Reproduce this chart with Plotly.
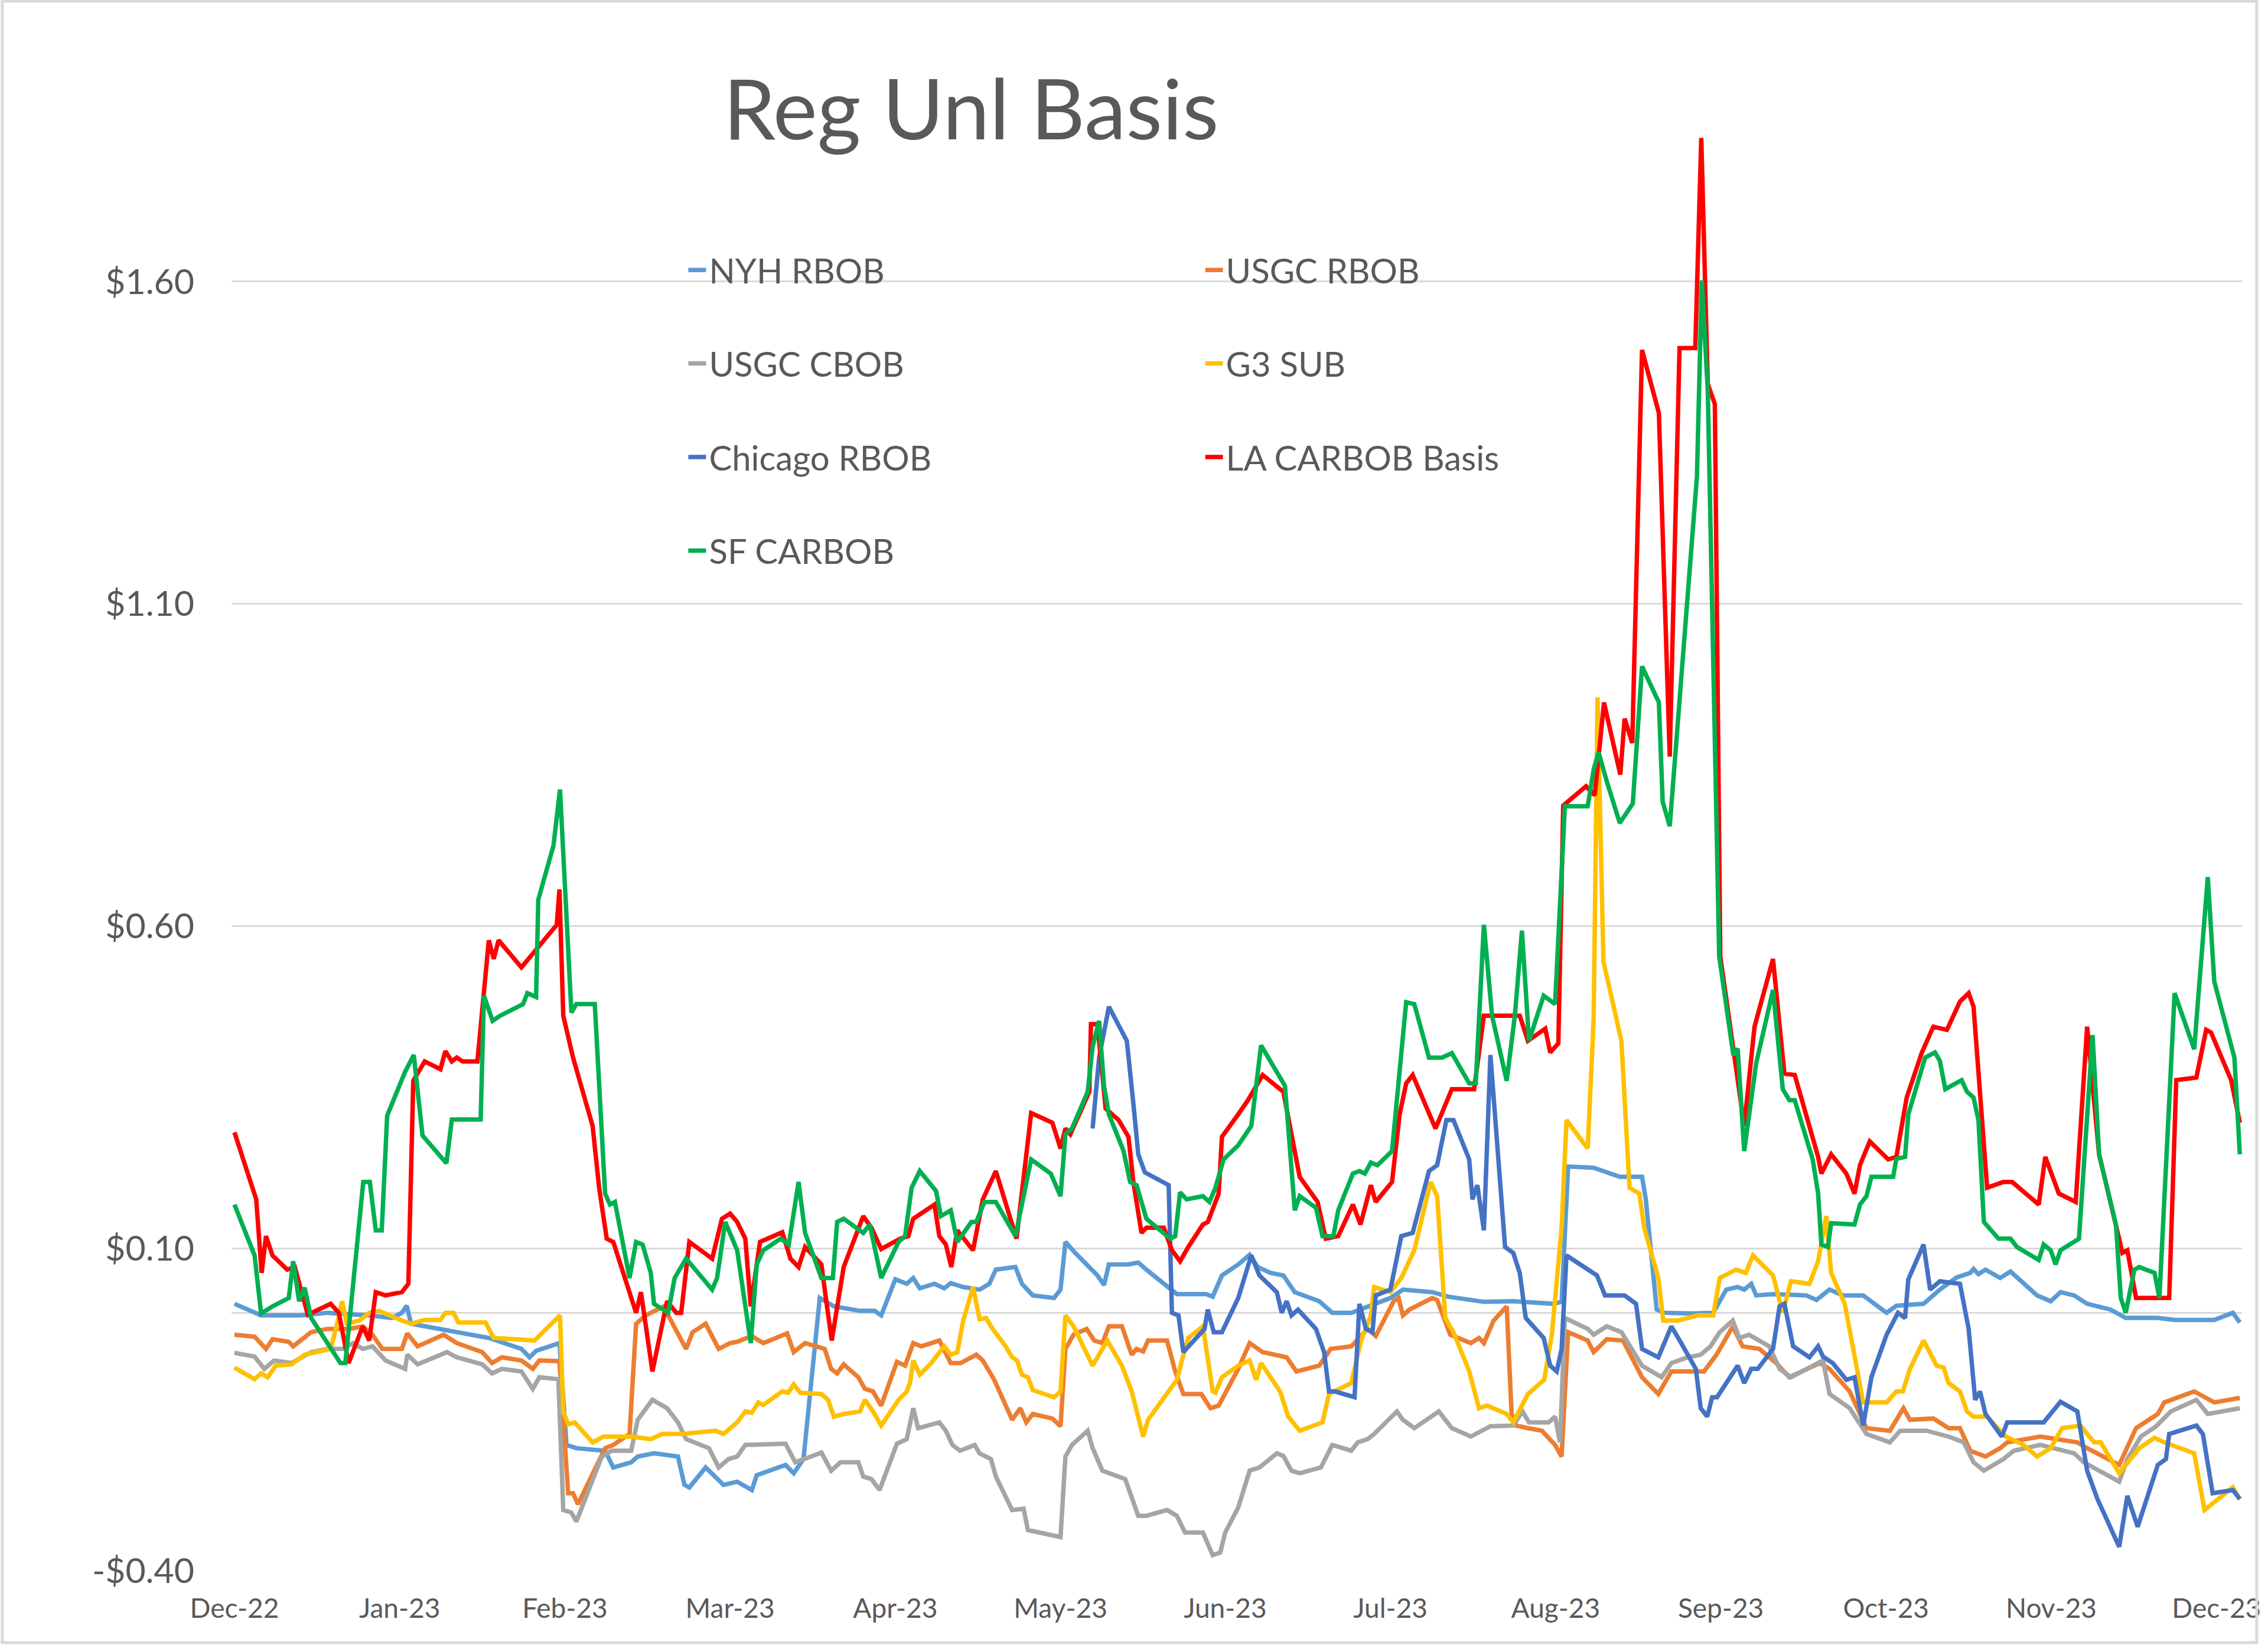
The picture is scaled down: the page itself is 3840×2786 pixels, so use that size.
import plotly.graph_objects as go
import pandas as pd

# ---------------- data ----------------
START = pd.Timestamp("2022-12-01")   # day 0 of the series below

# the category axis shows a label every ~21 trading days, evenly spaced
label_days = [0, 30.4, 60.8, 91.2, 121.6, 152.0, 182.3, 212.7, 243.1, 273.5, 303.9, 334.3, 364.7]
month_labels = ["Dec-22", "Jan-23", "Feb-23", "Mar-23", "Apr-23", "May-23", "Jun-23",
                "Jul-23", "Aug-23", "Sep-23", "Oct-23", "Nov-23", "Dec-23"]
y_ticks = [-0.40, 0.10, 0.60, 1.10, 1.60]
y_labels = ["-$0.40", "$0.10", "$0.60", "$1.10", "$1.60"]

# (days since START, $/gal)
nyh_rbob = [(0,0.014),(4.9,-0.004),(12.3,-0.004),(17.1,0.0),(24.8,-0.004),(29,-0.008),(30.8,0.0),(31.7,0.011),(32.5,-0.017),(37.9,-0.025),(42.1,-0.032),(46.8,-0.039),(52.8,-0.056),(54.3,-0.069),(55.5,-0.059),(59.8,-0.047),(61.1,-0.205),(62.9,-0.21),(68.2,-0.214),(69.7,-0.24),(73,-0.232),(74.2,-0.223),(77.2,-0.218),(81.6,-0.223),(82.8,-0.267),(83.7,-0.271),(86.7,-0.24),(90,-0.267),(92.5,-0.262),(95.2,-0.275),(96.1,-0.252),(101.4,-0.236),(102.9,-0.249),(104.7,-0.227),(107.7,0.023),(110.3,0.01),(115.1,0.003),(117.8,0.003),(119,-0.004),(121.6,0.052),(123.7,0.045),(124.9,0.054),(126.1,0.038),(128.8,0.045),(130.6,0.038),(131.8,0.046),(134.1,0.04),(137.1,0.036),(138.9,0.045),(140.1,0.067),(143.7,0.071),(144.9,0.045),(146.9,0.027),(150.8,0.023),(152,0.036),(152.9,0.11),(154.7,0.093),(157.3,0.071),(158.8,0.058),(160,0.043),(160.9,0.075),(164.5,0.075),(166.3,0.078),(167.8,0.067),(172.2,0.036),(173.4,0.029),(178.8,0.029),(180,0.025),(181.7,0.058),(184.7,0.075),(186.8,0.09),(188.3,0.071),(190.6,0.062),(193,0.058),(195.1,0.032),(199.6,0.018),(202,0.0),(205.5,0.0),(212.7,0.023),(215,0.036),(220.4,0.032),(223.4,0.025),(229.9,0.017),(235.3,0.018),(242.7,0.014),(244.2,0.017),(245.4,0.227),(250.1,0.225),(254.9,0.211),(259,0.211),(259.7,0.176),(261.7,0.005),(263.2,0.0),(268,-0.001),(272.1,0.0),(274.5,0.036),(276.6,0.04),(277.8,0.036),(279.1,0.045),(280,0.027),(283.1,0.029),(289.2,0.027),(291.1,0.02),(293.5,0.036),(296,0.027),(299.7,0.027),(304,0.0),(305.8,0.011),(310.8,0.014),(313.8,0.036),(316.9,0.055),(319.4,0.062),(320,0.068),(320.9,0.06),(322.2,0.067),(324.9,0.054),(326.8,0.064),(329.2,0.046),(331.7,0.027),(334.2,0.018),(336,0.032),(338.5,0.027),(340.9,0.014),(345.2,0.005),(348,-0.008),(353.9,-0.008),(357,-0.011),(364.3,-0.011),(367.7,0.0),(369,-0.015)]

usgc_rbob = [(0,-0.034),(3.7,-0.037),(5.8,-0.056),(7,-0.041),(10,-0.045),(10.8,-0.052),(14.1,-0.03),(17.1,-0.025),(21.2,-0.025),(23.6,-0.021),(25.4,-0.034),(27.2,-0.056),(30.8,-0.056),(31.8,-0.032),(33.7,-0.052),(38.5,-0.034),(40.9,-0.047),(45.6,-0.061),(47.4,-0.078),(49.2,-0.069),(52.8,-0.074),(54.9,-0.087),(56.1,-0.074),(59.8,-0.075),(61.4,-0.28),(62.3,-0.28),(63.2,-0.297),(66.5,-0.24),(68.2,-0.21),(69.7,-0.205),(72.7,-0.188),(73.9,-0.017),(75.7,-0.004),(79,0.01),(79.8,-0.004),(83.1,-0.056),(84.3,-0.03),(86.7,-0.017),(89.1,-0.056),(91.2,-0.047),(92.5,-0.045),(95.2,-0.036),(97.3,-0.047),(101.7,-0.032),(102.9,-0.061),(105,-0.047),(108.6,-0.056),(109.8,-0.087),(110.9,-0.094),(112.1,-0.08),(114.8,-0.1),(116,-0.118),(117.5,-0.122),(119,-0.144),(121.9,-0.076),(123.4,-0.082),(124.9,-0.047),(126.4,-0.052),(129.7,-0.043),(131.8,-0.078),(133.6,-0.078),(136.5,-0.065),(137.7,-0.074),(139.8,-0.104),(143.1,-0.166),(144.6,-0.148),(145.7,-0.17),(146.9,-0.157),(150.5,-0.164),(152,-0.176),(152.9,-0.056),(154.4,-0.034),(156.8,-0.025),(158.2,-0.043),(159.7,-0.047),(160.9,-0.021),(163.3,-0.021),(165.1,-0.065),(166,-0.056),(167.2,-0.06),(168.1,-0.043),(171.6,-0.043),(173.1,-0.091),(174.6,-0.126),(177.9,-0.126),(179.6,-0.148),(181.1,-0.144),(184.7,-0.087),(186.8,-0.047),(189.2,-0.061),(193.6,-0.069),(195.4,-0.091),(199.6,-0.082),(201.7,-0.056),(205.5,-0.052),(208.5,-0.025),(210,-0.036),(213.3,0.018),(214.2,0.023),(215,-0.004),(216.2,0.005),(220.4,0.023),(221.3,0.02),(223.7,-0.034),(226.3,-0.043),(227.5,-0.047),(229,-0.039),(229.9,-0.047),(231.7,-0.012),(234.1,0.01),(235,-0.157),(235.9,-0.175),(238,-0.179),(240.6,-0.183),(243,-0.205),(244.2,-0.223),(245.4,-0.03),(249,-0.043),(250.1,-0.061),(252.5,-0.041),(255.5,-0.043),(259,-0.1),(262,-0.126),(264.4,-0.091),(270.4,-0.091),(272.7,-0.065),(275.7,-0.021),(277.5,-0.052),(280.6,-0.056),(283.7,-0.078),(286.1,-0.1),(291.7,-0.078),(293.5,-0.087),(297.2,-0.122),(300.3,-0.179),(304.6,-0.183),(307.1,-0.148),(308.3,-0.166),(312.6,-0.164),(315.4,-0.179),(317.5,-0.179),(319.4,-0.214),(322.2,-0.223),(324.9,-0.21),(326.2,-0.201),(332.3,-0.192),(339.1,-0.201),(340.9,-0.21),(346.8,-0.236),(348,-0.214),(349.9,-0.179),(353.9,-0.157),(355.1,-0.139),(360.6,-0.122),(364.3,-0.139),(369,-0.132)]

usgc_cbob = [(0,-0.062),(3.7,-0.068),(5.5,-0.087),(7.3,-0.074),(10.5,-0.078),(14.1,-0.061),(17.1,-0.056),(19.8,-0.056),(21.8,-0.047),(23.6,-0.056),(25.4,-0.052),(27.8,-0.074),(31.4,-0.087),(31.8,-0.065),(33.7,-0.08),(39.1,-0.061),(40.9,-0.069),(45.6,-0.08),(47.4,-0.094),(49.2,-0.087),(52.8,-0.091),(54.9,-0.118),(56.1,-0.1),(59.6,-0.103),(60.5,-0.306),(62,-0.31),(62.9,-0.324),(67.6,-0.223),(69.4,-0.214),(73,-0.214),(74.2,-0.166),(76.9,-0.135),(79.6,-0.148),(81.6,-0.17),(83.1,-0.196),(87.3,-0.21),(89.1,-0.24),(90.9,-0.227),(92.5,-0.223),(94,-0.205),(101.4,-0.203),(103.2,-0.232),(108,-0.217),(109.8,-0.245),(111.5,-0.232),(114.8,-0.232),(115.7,-0.254),(117.2,-0.258),(118.7,-0.275),(121.9,-0.203),(123.7,-0.196),(124.9,-0.148),(125.8,-0.179),(129.7,-0.17),(130.9,-0.183),(132.1,-0.205),(133.5,-0.214),(136.2,-0.205),(137.1,-0.218),(139.2,-0.227),(140.1,-0.254),(143.1,-0.306),(145.2,-0.304),(146,-0.337),(152,-0.348),(152.9,-0.223),(154.1,-0.205),(157,-0.183),(157.9,-0.21),(159.7,-0.245),(163.9,-0.258),(166.3,-0.315),(167.8,-0.315),(171.6,-0.306),(173.4,-0.315),(174.9,-0.341),(178.2,-0.341),(180,-0.376),(181.4,-0.372),(182.3,-0.341),(184.7,-0.302),(186.8,-0.245),(188.6,-0.24),(191.8,-0.218),(193,-0.222),(194.5,-0.245),(196,-0.249),(199.9,-0.24),(202,-0.205),(205.5,-0.214),(206.7,-0.201),(208.5,-0.196),(209.7,-0.188),(213.9,-0.153),(215,-0.166),(217.1,-0.179),(221.6,-0.153),(224,-0.179),(227.5,-0.192),(231.1,-0.176),(235.3,-0.175),(237,-0.153),(238.2,-0.17),(241.8,-0.17),(243,-0.161),(243.9,-0.201),(244.8,-0.008),(249,-0.025),(250.1,-0.034),(252.5,-0.021),(255.2,-0.03),(259,-0.082),(262.6,-0.1),(264.4,-0.078),(267.4,-0.069),(269.8,-0.065),(271.6,-0.052),(273.3,-0.03),(275.7,-0.012),(276.9,-0.039),(278.7,-0.034),(282.4,-0.052),(284.3,-0.087),(286.4,-0.1),(292.3,-0.074),(293.5,-0.126),(297.2,-0.148),(300.3,-0.188),(304.6,-0.201),(306.5,-0.183),(311.4,-0.183),(315.4,-0.192),(318.2,-0.201),(320,-0.232),(321.9,-0.245),(325.5,-0.227),(327.4,-0.214),(332.3,-0.205),(338.5,-0.218),(340.3,-0.232),(346.8,-0.262),(348.3,-0.227),(350.8,-0.192),(353.6,-0.176),(356.3,-0.153),(361,-0.135),(363.1,-0.157),(369,-0.148)]

g3_sub = [(0,-0.085),(3.7,-0.103),(4.9,-0.094),(6.1,-0.1),(7.6,-0.082),(10.5,-0.08),(12.9,-0.065),(14.7,-0.061),(17.7,-0.056),(18.9,-0.017),(19.8,0.018),(20.7,-0.017),(23,-0.012),(24.8,0.0),(26.6,0.003),(30.8,-0.012),(32.6,-0.017),(34.9,-0.011),(37.9,-0.011),(38.8,0.0),(40.3,0.0),(41.2,-0.015),(46.2,-0.015),(47.7,-0.039),(55.2,-0.043),(59.9,-0.004),(60.5,-0.153),(61.4,-0.173),(62.6,-0.17),(65.9,-0.201),(67.9,-0.192),(73,-0.192),(76.6,-0.196),(78.7,-0.188),(82.5,-0.188),(88.5,-0.183),(90,-0.188),(92.5,-0.17),(94,-0.153),(95.2,-0.155),(96.4,-0.139),(97.3,-0.143),(100.8,-0.122),(101.9,-0.124),(102.9,-0.111),(104.1,-0.124),(108,-0.126),(109.2,-0.135),(110.3,-0.161),(112.1,-0.157),(115.1,-0.153),(116,-0.135),(117.5,-0.153),(119,-0.175),(122.2,-0.135),(123.7,-0.122),(124.3,-0.109),(124.9,-0.074),(126.1,-0.096),(128.2,-0.078),(129.7,-0.061),(130.6,-0.052),(131.8,-0.065),(133,-0.061),(134.1,-0.012),(135.9,0.04),(137.1,-0.01),(138.3,-0.008),(139.5,-0.025),(141.9,-0.052),(143.1,-0.069),(144,-0.074),(144.9,-0.096),(146,-0.1),(146.9,-0.12),(150.8,-0.131),(152,-0.122),(152.9,-0.004),(154.4,-0.021),(156.8,-0.065),(157.9,-0.082),(160.6,-0.043),(163.3,-0.082),(165.1,-0.122),(167.2,-0.192),(168.1,-0.166),(173.4,-0.104),(174.9,-0.056),(175.5,-0.039),(178.2,-0.021),(180,-0.122),(180.5,-0.124),(181.7,-0.1),(184.7,-0.082),(186.8,-0.074),(188,-0.104),(188.9,-0.078),(192.4,-0.122),(193.9,-0.161),(196,-0.183),(200.2,-0.17),(201.4,-0.126),(205.5,-0.109),(207.3,-0.043),(209.1,-0.004),(209.7,0.04),(212.7,0.032),(214.7,0.054),(217.1,0.097),(220.1,0.203),(221.3,0.181),(222.8,-0.008),(224.3,-0.03),(227.2,-0.091),(229,-0.148),(230.5,-0.144),(234.1,-0.157),(235.3,-0.17),(238,-0.126),(241,-0.104),(242.4,-0.034),(244.2,0.132),(245.1,0.299),(249,0.255),(250.1,0.457),(250.8,0.955),(251.9,0.545),(255.2,0.422),(256.7,0.194),(258.5,0.185),(259.4,0.132),(262,0.054),(262.9,-0.012),(265.6,-0.012),(269.2,-0.004),(272.1,-0.004),(273.3,0.054),(276.3,0.067),(278.1,0.062),(279.4,0.089),(283.1,0.058),(284.9,0.0),(286.4,0.049),(289.8,0.045),(291.4,0.08),(292.9,0.15),(293.8,0.062),(296.3,0.014),(299.7,-0.139),(304,-0.139),(305.8,-0.122),(307,-0.122),(308.3,-0.087),(310.8,-0.043),(313.2,-0.082),(314.5,-0.085),(315.4,-0.109),(317.5,-0.122),(318.8,-0.153),(320,-0.161),(322.5,-0.161),(325.9,-0.192),(329.2,-0.205),(331.7,-0.223),(334.2,-0.21),(336.3,-0.179),(339.7,-0.175),(340.9,-0.188),(342.2,-0.201),(343.4,-0.201),(346.8,-0.249),(348.9,-0.227),(350.5,-0.21),(353.3,-0.194),(355.1,-0.201),(360.6,-0.218),(362.5,-0.306),(365,-0.289),(367.7,-0.271),(369,-0.289)]

chicago_rbob = [(157.9,0.286),(159.1,0.396),(160.9,0.475),(164.2,0.422),(165.4,0.325),(166.3,0.246),(167.5,0.218),(171.9,0.198),(172.5,0.0),(173.7,-0.004),(174.6,-0.061),(178.5,-0.025),(179.1,0.005),(180.2,-0.03),(181.7,-0.03),(184.7,0.023),(187.1,0.089),(188.6,0.058),(191.8,0.032),(192.7,0.0),(193.6,0.018),(194.5,-0.004),(195.7,0.005),(199,-0.025),(200.5,-0.061),(201.4,-0.122),(202.5,-0.122),(206.1,-0.131),(207,0.014),(208.2,-0.025),(209.4,-0.03),(210,0.027),(212.7,0.036),(214.7,0.119),(216.8,0.124),(219.8,0.22),(221.3,0.229),(223,0.299),(224.3,0.299),(227.2,0.238),(227.8,0.176),(228.7,0.198),(229.9,0.128),(231.1,0.4),(233.8,0.102),(235.3,0.093),(236.5,0.062),(237.6,-0.008),(240.9,-0.039),(242.1,-0.082),(243.3,-0.091),(244.2,-0.056),(245.1,0.089),(250.7,0.058),(252.2,0.027),(255.8,0.027),(257.9,0.014),(259,-0.056),(262,-0.069),(264.4,-0.021),(266.2,-0.047),(268.9,-0.087),(269.8,-0.148),(271,-0.161),(271.9,-0.131),(272.8,-0.131),(276.6,-0.082),(277.8,-0.109),(279.1,-0.087),(280.3,-0.087),(283.1,-0.056),(284.3,0.01),(285.2,0.014),(286.8,-0.052),(289.8,-0.069),(291.4,-0.052),(292.3,-0.068),(294.1,-0.078),(296.6,-0.104),(298.1,-0.1),(299.7,-0.175),(301.2,-0.1),(304,-0.034),(306.1,0.0),(307.4,-0.008),(308,0.052),(310.8,0.106),(312,0.036),(313.8,0.049),(317.5,0.045),(319.1,-0.025),(320.3,-0.135),(321.2,-0.122),(322.2,-0.157),(325.2,-0.192),(326.2,-0.17),(332.9,-0.17),(336,-0.138),(339.1,-0.153),(340.9,-0.245),(342.8,-0.289),(346.8,-0.363),(348.3,-0.284),(350.2,-0.332),(353.9,-0.236),(355.4,-0.227),(356,-0.188),(361,-0.175),(362.2,-0.188),(364,-0.28),(367.7,-0.275),(369,-0.289)]

la_carbob = [(0,0.28),(4,0.176),(5,0.062),(5.8,0.119),(7,0.089),(9.7,0.067),(11.1,0.071),(13.5,-0.003),(17.7,0.014),(19.2,0.0),(21,-0.078),(23.6,-0.021),(24.8,-0.043),(26,0.032),(27.8,0.027),(30.8,0.032),(32,0.045),(32.9,0.36),(35,0.39),(37.9,0.378),(38.8,0.406),(40,0.39),(40.9,0.396),(42,0.39),(44.7,0.39),(46.8,0.578),(47.7,0.549),(48.6,0.578),(52.8,0.536),(55.8,0.567),(59.3,0.602),(59.8,0.657),(60.5,0.461),(62.3,0.396),(65.9,0.29),(67.1,0.194),(68.5,0.115),(69.7,0.11),(73.9,0.0),(74.8,0.032),(76.9,-0.091),(79.6,0.018),(81.3,0.0),(82.2,0.0),(83.7,0.11),(87.9,0.084),(89.7,0.146),(91.2,0.154),(92.5,0.141),(94,0.115),(95,0.01),(96.7,0.11),(100.8,0.125),(102.3,0.084),(103.8,0.071),(105,0.102),(108,0.075),(108.9,0.018),(109.9,-0.043),(112.1,0.071),(115.7,0.15),(117.2,0.132),(119,0.099),(122.5,0.115),(124,0.119),(124.9,0.146),(128.8,0.168),(129.7,0.119),(130.9,0.106),(131.9,0.071),(133,0.128),(135.9,0.097),(137.7,0.176),(140.1,0.22),(143.9,0.115),(146.6,0.31),(150.5,0.295),(152,0.255),(152.9,0.286),(153.8,0.277),(157.3,0.343),(157.6,0.448),(158.8,0.448),(160.3,0.317),(162.7,0.299),(164.5,0.273),(165.4,0.203),(166.9,0.124),(167.8,0.132),(171,0.132),(172.5,0.097),(174,0.08),(175.5,0.102),(178.2,0.137),(179.1,0.141),(181.1,0.185),(181.7,0.273),(184.7,0.308),(186.5,0.33),(189.2,0.369),(193,0.343),(196,0.211),(199.3,0.172),(200.8,0.115),(203.1,0.119),(205.8,0.168),(207.2,0.137),(209.1,0.198),(210,0.172),(213,0.203),(214.4,0.308),(215.6,0.356),(216.8,0.369),(221,0.286),(224,0.347),(228.1,0.347),(229.9,0.461),(236.5,0.461),(238,0.422),(241.2,0.441),(242.1,0.404),(243.6,0.418),(244.5,0.787),(248.7,0.817),(250.3,0.803),(252,0.947),(255,0.835),(255.8,0.922),(257.2,0.884),(259,1.494),(262.1,1.396),(264.1,0.863),(265.9,1.497),(268.8,1.497),(269.9,1.823),(271.1,1.441),(272.4,1.41),(273.4,0.553),(276,0.40),(277.8,0.29),(279.7,0.444),(283.1,0.549),(285.2,0.371),(287.1,0.369),(291.4,0.242),(292,0.216),(293.8,0.246),(296.6,0.216),(298.1,0.185),(299.1,0.229),(300.9,0.266),(304.3,0.238),(305.8,0.242),(307.7,0.334),(310.5,0.404),(312.6,0.444),(315.1,0.439),(317.5,0.483),(319.1,0.496),(320,0.475),(322.5,0.194),(325.5,0.203),(327.1,0.203),(332,0.168),(333.2,0.242),(335.7,0.185),(338.8,0.172),(340.9,0.444),(343.1,0.246),(346.2,0.132),(347.4,0.093),(348.3,0.097),(349.9,0.023),(356,0.023),(357.3,0.361),(361,0.365),(362.8,0.439),(363.7,0.435),(367.4,0.361),(369,0.295)]

sf_carbob = [(0,0.168),(3.7,0.089),(4.9,-0.001),(7,0.01),(10,0.023),(10.8,0.08),(11.9,0.018),(12.9,0.039),(14.1,-0.008),(19.5,-0.078),(20.4,-0.078),(23.7,0.203),(24.9,0.203),(26,0.128),(27.1,0.128),(28.1,0.306),(31.4,0.374),(33,0.40),(34.6,0.275),(37.6,0.246),(39,0.232),(40,0.30),(45.3,0.30),(45.9,0.492),(47.5,0.453),(48.9,0.461),(53.1,0.479),(53.9,0.496),(55.5,0.49),(55.9,0.641),(58.7,0.725),(59.9,0.812),(62,0.466),(62.9,0.479),(66.3,0.479),(68.2,0.185),(69.1,0.168),(70,0.172),(72.7,0.054),(73.9,0.11),(75.1,0.106),(76.6,0.062),(77.2,0.014),(79.8,0.0),(81,0.054),(83.1,0.084),(87.9,0.036),(88.8,0.054),(90.3,0.141),(92.5,0.097),(95,-0.047),(96.1,0.075),(97.3,0.097),(100.5,0.115),(102,0.106),(103.8,0.203),(105,0.124),(108,0.054),(110.1,0.054),(110.9,0.141),(112.1,0.146),(115.7,0.124),(116.9,0.137),(119,0.054),(122.2,0.11),(123.4,0.119),(124.6,0.194),(126.1,0.22),(129.1,0.189),(130,0.15),(131.8,0.159),(133,0.11),(135.6,0.141),(136.5,0.141),(138,0.172),(140.1,0.172),(143.7,0.119),(146.6,0.238),(150.2,0.216),(152,0.181),(152.9,0.277),(154.1,0.286),(157,0.343),(157.9,0.413),(159.1,0.453),(160,0.352),(160.9,0.308),(163.6,0.251),(164.8,0.203),(166,0.198),(167.8,0.146),(172.2,0.115),(173.1,0.119),(174,0.187),(175.2,0.176),(178.2,0.181),(179.4,0.172),(180.5,0.194),(182,0.238),(184.7,0.26),(187.1,0.29),(188.9,0.415),(193.3,0.352),(195.1,0.159),(196,0.181),(199,0.163),(200.2,0.119),(202.2,0.119),(203.1,0.159),(205.8,0.216),(207,0.22),(208,0.216),(209.1,0.233),(210.3,0.229),(213,0.251),(215.6,0.482),(217.1,0.479),(219.8,0.396),(222.2,0.396),(224,0.403),(227.2,0.356),(228.4,0.356),(229.9,0.602),(231.4,0.461),(234.1,0.36),(235.6,0.461),(236.9,0.593),(238.2,0.422),(240.9,0.492),(243,0.479),(244.8,0.786),(249,0.786),(250.1,0.843),(251,0.87),(252.5,0.825),(254.9,0.76),(257.3,0.79),(259,1.003),(262.1,0.947),(262.8,0.793),(264.1,0.755),(269.1,1.297),(270,1.602),(271.1,1.43),(273.2,0.553),(275.8,0.40),(276.6,0.41),(277.8,0.251),(280,0.387),(283.1,0.501),(284.9,0.347),(286.1,0.33),(287.1,0.33),(290.4,0.238),(291.4,0.185),(292,0.106),(293.2,0.102),(293.8,0.139),(298.1,0.137),(299.1,0.168),(300.3,0.181),(301.2,0.211),(305.2,0.211),(305.8,0.239),(307.4,0.242),(308,0.308),(311.1,0.396),(312.9,0.404),(313.8,0.391),(314.8,0.347),(317.8,0.361),(318.8,0.343),(320,0.334),(320.9,0.299),(321.9,0.141),(324.6,0.115),(326.8,0.115),(328,0.102),(332,0.082),(332.9,0.106),(334.2,0.097),(335.1,0.075),(336,0.097),(339.4,0.115),(341.9,0.431),(343.1,0.246),(346.2,0.137),(347.1,0.023),(348,0.0),(349.6,0.067),(350.5,0.071),(353.3,0.062),(354.2,0.023),(357,0.496),(360.6,0.409),(363.1,0.676),(364.3,0.514),(368,0.396),(369,0.246)]

# name, data, colour, legend column
series = [
    ("NYH RBOB", nyh_rbob, "#5B9BD5", "legend"),
    ("USGC RBOB", usgc_rbob, "#ED7D31", "legend2"),
    ("USGC CBOB", usgc_cbob, "#A5A5A5", "legend"),
    ("G3 SUB", g3_sub, "#FFC000", "legend2"),
    ("Chicago RBOB", chicago_rbob, "#4472C4", "legend"),
    ("LA CARBOB Basis", la_carbob, "#FF0000", "legend2"),
    ("SF CARBOB", sf_carbob, "#00B050", "legend"),
]

# ---------------- figure ----------------
W, H = 3840, 2786
L, R, T, B = 392, 37, 60, 126
PW, PH = W - L - R, H - T - B

def px_x(p):
    return (p - L) / PW

def px_y(p):
    return (H - B - p) / PH

def to_date(days):
    return START + pd.to_timedelta(days, unit="D")

FONT = "Lato"
GREY_TXT = "#595959"

fig = go.Figure()
for name, pts, color, leg in series:
    days = [d for d, _ in pts]
    vals = [v for _, v in pts]
    fig.add_trace(go.Scatter(
        x=to_date(days), y=vals, name=name, mode="lines",
        line=dict(color=color, width=7.5),
        legend=leg, legendgroup=name,
    ))

x0 = START - pd.Timedelta(hours=13)
x1 = START + pd.Timedelta(days=369.4)

legend_common = dict(
    xanchor="left", yanchor="top",
    font=dict(family=FONT, size=58, color=GREY_TXT),
    bgcolor="rgba(0,0,0,0)", borderwidth=0,
    tracegroupgap=80, itemwidth=30, orientation="v",
)

fig.update_layout(
    width=W, height=H,
    margin=dict(l=L, r=R, t=T, b=B),
    paper_bgcolor="white", plot_bgcolor="white",
    font=dict(family=FONT, color=GREY_TXT),
    title=dict(text="Reg Unl Basis", x=1644 / W, xanchor="center",
               y=1 - 186 / H, yanchor="middle",
               font=dict(family=FONT, size=142, color=GREY_TXT)),
    showlegend=True,
    legend=dict(x=px_x(1162), y=px_y(413), **legend_common),
    legend2=dict(x=px_x(2039), y=px_y(413), **legend_common),
    xaxis=dict(
        type="date", range=[x0, x1],
        tickvals=to_date(label_days), ticktext=month_labels,
        showgrid=False, showline=False, zeroline=False, ticks="",
        ticklabelstandoff=33,
        tickfont=dict(family=FONT, size=46, color=GREY_TXT),
    ),
    yaxis=dict(
        range=[-0.40, 1.982],
        tickvals=y_ticks, ticktext=y_labels,
        showgrid=True, gridcolor="#D9D9D9", gridwidth=3,
        zeroline=True, zerolinecolor="#D9D9D9", zerolinewidth=3,
        showline=False, ticks="",
        ticklabelstandoff=62,
        tickfont=dict(family=FONT, size=59, color=GREY_TXT),
    ),
    shapes=[dict(type="rect", xref="paper", yref="paper",
                 x0=px_x(3), x1=px_x(3828), y0=px_y(2782), y1=px_y(2),
                 line=dict(color="#D9D9D9", width=5), fillcolor="rgba(0,0,0,0)")],
)

fig.write_html("out.html")
